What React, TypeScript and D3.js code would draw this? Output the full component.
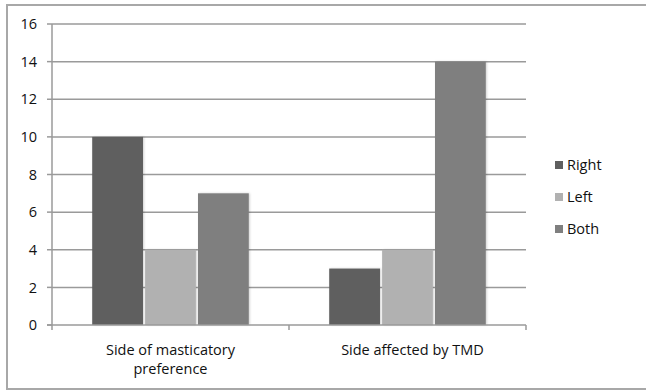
import React from "react";
import * as d3 from "d3";

const categories = ["Side of masticatory preference", "Side affected by TMD"];
const categoryLines = [["Side of masticatory", "preference"], ["Side affected by TMD"]];
const seriesNames = ["Right", "Left", "Both"];
const rightValues = [10, 3];
const leftValues = [4, 4];
const bothValues = [7, 14];
const yTicks = [0, 2, 4, 6, 8, 10, 12, 14, 16];
const colors = ["#5f5f5f", "#b1b1b1", "#7f7f7f"];

export default function App() {
  const W = 646, H = 390;
  const x0 = 52, x1 = 526, yTop = 24, yBot = 325;
  const font = "'Open Sans', 'DejaVu Sans', sans-serif";
  const fs = 14.5;
  const y = d3.scaleLinear().domain([0, 16]).range([yBot, yTop]);
  const x = d3.scaleBand().domain(categories).range([x0, x1]).paddingInner(0).paddingOuter(0);
  const inner = d3.scaleBand().domain(seriesNames).range([0, x.bandwidth()]).paddingOuter(0.76).paddingInner(0.04);
  const series = [rightValues, leftValues, bothValues];
  const tickXs = [x0, x0 + x.bandwidth(), x1];

  return (
    <svg width={W} height={H} style={{ position: "absolute", left: 0, top: 0, background: "#fff", overflow: "hidden" }}>
      <defs>
        <filter id="sh" x="-20%" y="-5%" width="140%" height="110%">
          <feDropShadow dx="1" dy="0" stdDeviation="1" floodColor="#000" floodOpacity="0.18" />
        </filter>
      </defs>
      <path d="M700,5 H7 V389 H700" fill="none" stroke="#a8a8a8" strokeWidth={2} />
      {yTicks.map((t) => (
        <g key={t}>
          {t > 0 && <line x1={x0} x2={x1} y1={y(t)} y2={y(t)} stroke="#9a9a9a" strokeWidth={1.5} />}
          <line x1={x0 - 5} x2={x0} y1={y(t)} y2={y(t)} stroke="#9a9a9a" strokeWidth={1.5} />
          <text x={37} y={y(t)} dy="0.36em" textAnchor="end" fontFamily={font} fontSize={fs} fill="#111">{t}</text>
        </g>
      ))}
      {categories.map((c, ci) =>
        series.map((vals, si) => (
          <rect key={c + si} x={(x(c) as number) + (inner(seriesNames[si]) as number)} y={y(vals[ci])}
            width={inner.bandwidth()} height={yBot - y(vals[ci])} fill={colors[si]} filter="url(#sh)" />
        ))
      )}
      <line x1={x0} x2={x0} y1={yTop} y2={yBot} stroke="#9a9a9a" strokeWidth={1.5} />
      <line x1={x0 - 5} x2={x1} y1={yBot} y2={yBot} stroke="#9a9a9a" strokeWidth={1.5} />
      {tickXs.map((tx, i) => (
        <line key={i} x1={tx} x2={tx} y1={yBot} y2={yBot + 5} stroke="#9a9a9a" strokeWidth={1.5} />
      ))}
      {categories.map((c, ci) => (
        <text key={c} textAnchor="middle" fontFamily={font} fontSize={fs} fill="#111">
          {categoryLines[ci].map((l, li) => (
            <tspan key={li} x={(x(c) as number) + x.bandwidth() / 2 + (ci === 1 ? 5 : 0)} y={355 + li * 19}>{l}</tspan>
          ))}
        </text>
      ))}
      {seriesNames.map((s, i) => (
        <g key={s}>
          <rect x={555} y={165 + i * 32 - 4} width={8} height={8} fill={colors[i]} />
          <text x={567} y={165 + i * 32} dy="0.36em" fontFamily={font} fontSize={fs} fill="#111">{s}</text>
        </g>
      ))}
    </svg>
  );
}
